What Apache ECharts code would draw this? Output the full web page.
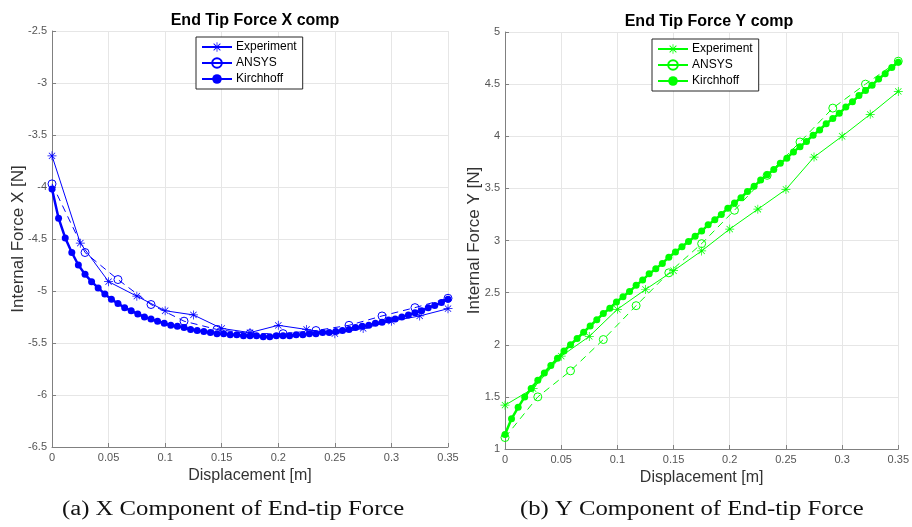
<!DOCTYPE html>
<html>
<head>
<meta charset="utf-8">
<script src="https://cdn.jsdelivr.net/npm/echarts@6/dist/echarts.min.js"></script>
<style>
html,body{margin:0;padding:0;background:#fff;}
#c{width:912px;height:527px;}
</style>
</head>
<body>
<div id="c"></div>
<script>
// ---- Data ----
const expX = [0, 0.025, 0.05, 0.075, 0.1, 0.125, 0.15, 0.175, 0.2, 0.225, 0.25, 0.275, 0.3, 0.325, 0.35];
const ansysX = [0, 0.0292, 0.0583, 0.0875, 0.1167, 0.1458, 0.175, 0.2042, 0.2333, 0.2625, 0.2917, 0.3208, 0.35];
const kirchX = [0, 0.0058, 0.0117, 0.0175, 0.0233, 0.0292, 0.035, 0.0408, 0.0467, 0.0525,
  0.0583, 0.0642, 0.07, 0.0758, 0.0817, 0.0875, 0.0933, 0.0992, 0.105, 0.1108,
  0.1167, 0.1225, 0.1283, 0.1342, 0.14, 0.1458, 0.1517, 0.1575, 0.1633, 0.1692,
  0.175, 0.1808, 0.1867, 0.1925, 0.1983, 0.2042, 0.21, 0.2158, 0.2217, 0.2275,
  0.2333, 0.2392, 0.245, 0.2508, 0.2567, 0.2625, 0.2683, 0.2742, 0.28, 0.2858,
  0.2917, 0.2975, 0.3033, 0.3092, 0.315, 0.3208, 0.3267, 0.3325, 0.3383, 0.3442, 0.35];

// X component (left panel)
const expFx = [-3.70, -4.54, -4.91, -5.05, -5.19, -5.23, -5.36, -5.40, -5.33, -5.37, -5.41, -5.36, -5.29, -5.24, -5.17];
const ansysFx = [-3.97, -4.63, -4.89, -5.13, -5.29, -5.37, -5.41, -5.41, -5.38, -5.33, -5.24, -5.16, -5.07];
const kirchFx = [-4.02, -4.30, -4.49, -4.63, -4.75, -4.84, -4.91, -4.97, -5.03, -5.08,
  -5.12, -5.16, -5.19, -5.22, -5.25, -5.27, -5.29, -5.31, -5.33, -5.34,
  -5.35, -5.37, -5.38, -5.39, -5.40, -5.41, -5.41, -5.42, -5.42, -5.43,
  -5.43, -5.43, -5.44, -5.44, -5.43, -5.43, -5.43, -5.42, -5.42, -5.41,
  -5.41, -5.40, -5.40, -5.39, -5.38, -5.37, -5.35, -5.34, -5.33, -5.31,
  -5.30, -5.28, -5.27, -5.25, -5.23, -5.21, -5.19, -5.16, -5.14, -5.11, -5.08];

// Y component (right panel)
const expFy = [1.42, 1.58, 1.89, 2.08, 2.34, 2.53, 2.71, 2.90, 3.11, 3.30, 3.49, 3.80, 4.00, 4.21, 4.43];
const ansysFy = [1.11, 1.50, 1.75, 2.05, 2.375, 2.69, 2.97, 3.29, 3.625, 3.945, 4.27, 4.50, 4.72];
const kirchFy = [1.14, 1.29, 1.40, 1.50, 1.58, 1.66, 1.73, 1.80, 1.87, 1.94,
  2.00, 2.06, 2.12, 2.18, 2.24, 2.30, 2.35, 2.41, 2.46, 2.51,
  2.57, 2.62, 2.68, 2.73, 2.78, 2.84, 2.89, 2.94, 2.99, 3.04,
  3.09, 3.15, 3.20, 3.25, 3.31, 3.36, 3.41, 3.47, 3.52, 3.58,
  3.63, 3.68, 3.74, 3.79, 3.85, 3.90, 3.95, 4.01, 4.06, 4.12,
  4.17, 4.22, 4.28, 4.33, 4.39, 4.44, 4.49, 4.55, 4.60, 4.66, 4.71];

// Axis ranges / ticks
const xRange = [0, 0.35], xStep = 0.05;
const yRangeX = [-6.5, -2.5], yRangeY = [1, 5], yStep = 0.5;

const titles = ['End Tip Force X comp', 'End Tip Force Y comp'];
const yNames = ['Internal Force X [N]', 'Internal Force Y [N]'];
const xName = 'Displacement [m]';
const captions = ['(a) X Component of End-tip Force', '(b) Y Component of End-tip Force'];
const seriesNames = ['Experiment', 'ANSYS', 'Kirchhoff'];

// ---- Chart ----
const FONT = '"Liberation Sans", Helvetica, Arial, sans-serif';
const SERIF = '20px "Liberation Serif", "Times New Roman", serif';
const ASTERISK = 'path://M-0.08,-1 L0.08,-1 L0.08,1 L-0.08,1 Z M-1,-0.08 L1,-0.08 L1,0.08 L-1,0.08 Z M-0.757,-0.643 L-0.643,-0.757 L0.757,0.643 L0.643,0.757 Z M0.643,-0.757 L0.757,-0.643 L-0.643,0.757 L-0.757,0.643 Z';

function pairs(xs, ys) { return xs.map((x, i) => [x, ys[i]]); }

function xAxis(gi, gap) {
  return {
    type: 'value', gridIndex: gi, min: xRange[0], max: xRange[1], interval: xStep,
    name: xName, nameLocation: 'middle', nameGap: gap, nameMoveOverlap: false,
    nameTextStyle: { fontFamily: FONT, fontSize: 16, color: '#333' },
    axisLine: { show: true, lineStyle: { color: '#808080', width: 1 } },
    axisTick: { show: true, inside: true, length: 4, lineStyle: { color: '#808080' } },
    axisLabel: { fontFamily: FONT, fontSize: 11, color: '#555', margin: 5 },
    splitLine: { show: true, lineStyle: { color: '#e6e6e6', width: 1 } }
  };
}
function yAxis(gi, range, name, gap) {
  return {
    type: 'value', gridIndex: gi, min: range[0], max: range[1], interval: yStep,
    name: name, nameLocation: 'middle', nameGap: gap, nameRotate: 90, nameMoveOverlap: false,
    nameTextStyle: { fontFamily: FONT, fontSize: 17, color: '#333' },
    axisLine: { show: true, onZero: false, lineStyle: { color: '#808080', width: 1 } },
    axisTick: { show: true, inside: true, length: 4, lineStyle: { color: '#808080' } },
    axisLabel: { fontFamily: FONT, fontSize: 11, color: '#555', margin: 5 },
    splitLine: { show: true, lineStyle: { color: '#e6e6e6', width: 1 } }
  };
}

function makeSeries(gi, color, suffix, eY, aY, kY) {
  return [
    {
      name: seriesNames[0] + suffix, type: 'line', xAxisIndex: gi, yAxisIndex: gi,
      data: pairs(expX, eY), symbol: ASTERISK, symbolSize: 9,
      itemStyle: { color: color },
      lineStyle: { color: color, width: 1 }
    },
    {
      name: seriesNames[1] + suffix, type: 'line', xAxisIndex: gi, yAxisIndex: gi,
      data: pairs(ansysX, aY), symbol: 'circle', symbolSize: 8,
      itemStyle: { color: 'rgba(255,255,255,0)', borderColor: color, borderWidth: 1 },
      lineStyle: { color: color, width: 1, type: [7, 5] }
    },
    {
      name: seriesNames[2] + suffix, type: 'line', xAxisIndex: gi, yAxisIndex: gi,
      data: pairs(kirchX, kY), symbol: 'circle', symbolSize: 7,
      itemStyle: { color: color },
      lineStyle: { color: color, width: 2.5 }
    }
  ];
}

function legend(left, top, suffix) {
  return {
    orient: 'vertical', left: left, top: top,
    data: seriesNames.map(n => n + suffix),
    formatter: n => n.replace(/ [XY]$/, ''),
    itemWidth: 30, itemHeight: 12, itemGap: 4,
    padding: [4, 6, 4, 5],
    borderColor: '#262626', borderWidth: 1, backgroundColor: '#fff',
    selectedMode: false,
    lineStyle: { type: 'solid' },
    textStyle: { fontFamily: FONT, fontSize: 12, color: '#000', padding: [0, 0, 0, -1] }
  };
}

const chart = echarts.init(document.getElementById('c'), null, { renderer: 'canvas' });
chart.setOption({
  animation: false,
  backgroundColor: '#fff',
  title: [
    { text: titles[0], left: 250, top: 8, textAlign: 'center',
      textStyle: { fontFamily: FONT, fontSize: 16, fontWeight: 'bold', color: '#000' } },
    { text: titles[1], left: 704, top: 9, textAlign: 'center',
      textStyle: { fontFamily: FONT, fontSize: 16, fontWeight: 'bold', color: '#000' } }
  ],
  grid: [
    { left: 52, top: 31, width: 396, height: 416 },
    { left: 505, top: 32, width: 398, height: 417 }
  ],
  xAxis: [xAxis(0, 21), xAxis(1, 21)],
  yAxis: [yAxis(0, yRangeX, yNames[0], 25), yAxis(1, yRangeY, yNames[1], 22)],
  legend: [legend(196, 37, ' X'), legend(652, 39, ' Y')],
  series: [].concat(
    makeSeries(0, '#0000ff', ' X', expFx, ansysFx, kirchFx),
    makeSeries(1, '#00ff00', ' Y', expFy, ansysFy, kirchFy)
  ),
  graphic: [
    { type: 'text', x: 62, y: 510, scaleX: 1.235,
      style: { text: captions[0], font: SERIF, fill: '#111', textAlign: 'left', textVerticalAlign: 'middle' } },
    { type: 'text', x: 520, y: 510, scaleX: 1.235,
      style: { text: captions[1], font: SERIF, fill: '#111', textAlign: 'left', textVerticalAlign: 'middle' } }
  ]
});
</script>
</body>
</html>
